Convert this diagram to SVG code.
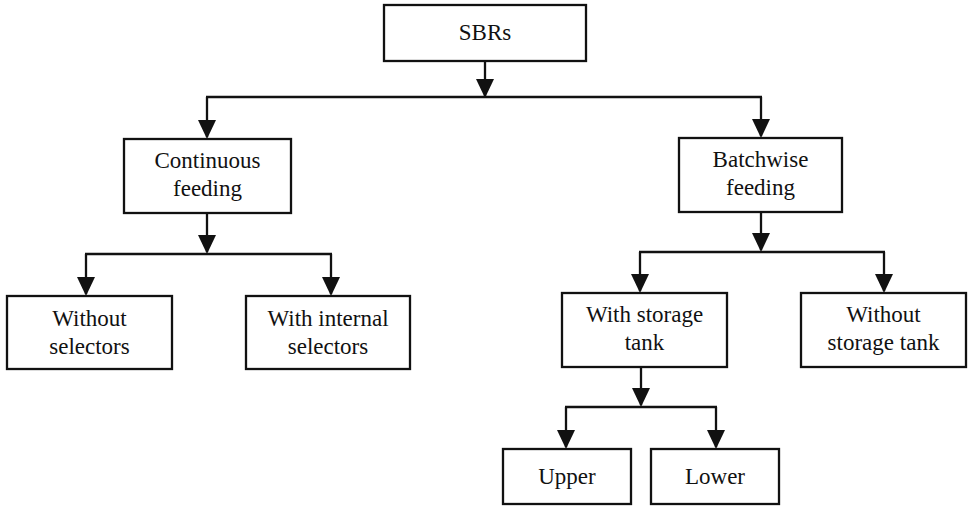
<svg xmlns="http://www.w3.org/2000/svg" width="972" height="506" viewBox="0 0 972 506">
<style>
.box{fill:#fff;stroke:#111;stroke-width:2.3}
.lbl{font-family:"Liberation Serif","Times New Roman",serif;font-size:23px;fill:#111;text-anchor:middle}
.ln{fill:none;stroke:#111;stroke-width:2.3}
.arr{fill:none;stroke:#111;stroke-width:2.3;marker-end:url(#ah)}
</style>
<defs>
<marker id="ah" viewBox="0 0 19 18" refX="17" refY="9" markerWidth="19" markerHeight="18" markerUnits="userSpaceOnUse" orient="auto">
<path d="M0,0 L19,9 L0,18 z" fill="#111"/>
</marker>
</defs>
<rect width="972" height="506" fill="#fff"/>
<g id="connectors">
<path class="arr" d="M485,61 V96"/>
<path class="ln" d="M206,97 H762"/>
<path class="arr" d="M207,97 V137"/>
<path class="arr" d="M761,97 V136"/>
<path class="arr" d="M207,213 V252"/>
<path class="ln" d="M85,254 H332"/>
<path class="arr" d="M86,254 V294"/>
<path class="arr" d="M331,254 V294"/>
<path class="arr" d="M761,212 V250"/>
<path class="ln" d="M639,252 H885"/>
<path class="arr" d="M640,252 V291"/>
<path class="arr" d="M884,252 V291"/>
<path class="arr" d="M641,367 V405"/>
<path class="ln" d="M565,407 H717"/>
<path class="arr" d="M566,407 V447"/>
<path class="arr" d="M716,407 V447"/>
</g>
<g id="sbrs">
<rect class="box" x="384" y="5" width="202" height="56"/>
<text class="lbl" x="485" y="40">SBRs</text>
</g>
<g id="continuous">
<rect class="box" x="124" y="139" width="167" height="74"/>
<text class="lbl" x="207.5" y="168">Continuous</text>
<text class="lbl" x="207.5" y="196">feeding</text>
</g>
<g id="batchwise">
<rect class="box" x="679" y="138" width="163" height="74"/>
<text class="lbl" x="760.5" y="167">Batchwise</text>
<text class="lbl" x="760.5" y="195">feeding</text>
</g>
<g id="without-selectors">
<rect class="box" x="7" y="296" width="165" height="73"/>
<text class="lbl" x="89.5" y="326">Without</text>
<text class="lbl" x="89.5" y="354">selectors</text>
</g>
<g id="with-internal-selectors">
<rect class="box" x="246" y="296" width="164" height="73"/>
<text class="lbl" x="328" y="326">With internal</text>
<text class="lbl" x="328" y="354">selectors</text>
</g>
<g id="with-storage">
<rect class="box" x="562" y="293" width="165" height="74"/>
<text class="lbl" x="644.5" y="322">With storage</text>
<text class="lbl" x="644.5" y="350">tank</text>
</g>
<g id="without-storage">
<rect class="box" x="801" y="293" width="165" height="74"/>
<text class="lbl" x="883.5" y="322">Without</text>
<text class="lbl" x="883.5" y="350">storage tank</text>
</g>
<g id="upper">
<rect class="box" x="503" y="449" width="128" height="55"/>
<text class="lbl" x="567" y="484">Upper</text>
</g>
<g id="lower">
<rect class="box" x="651" y="449" width="128" height="55"/>
<text class="lbl" x="715" y="484">Lower</text>
</g>
</svg>
